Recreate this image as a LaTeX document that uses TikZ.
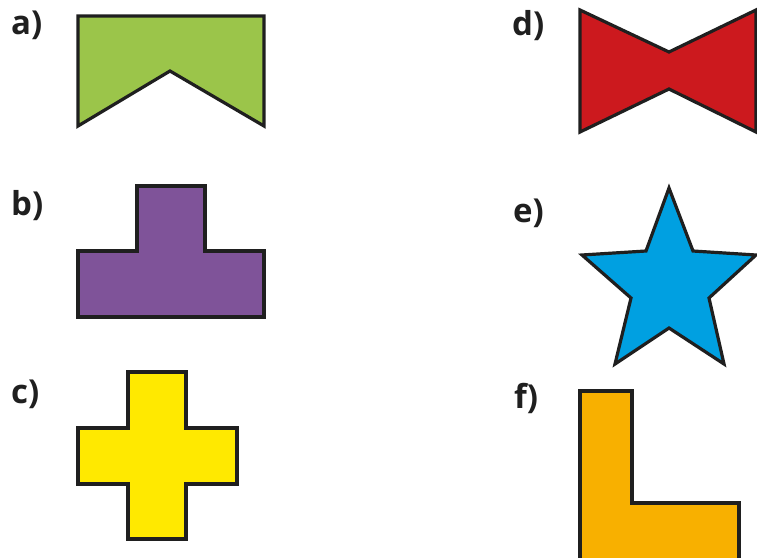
\documentclass[tikz,border=0pt]{standalone}
\usepackage{fontspec}
\setmainfont{Open Sans}
\definecolor{cgreen}{HTML}{9BC54A}
\definecolor{cpurple}{HTML}{7F5399}
\definecolor{cyellow}{HTML}{FFE900}
\definecolor{cred}{HTML}{CC191E}
\definecolor{cblue}{HTML}{00A0E1}
\definecolor{corange}{HTML}{F8B000}
\definecolor{cedge}{HTML}{1F1F1F}
\begin{document}
\begin{tikzpicture}[x=1pt,y=-1pt,
  figline/.style={draw=cedge,line width=3.2pt,line join=miter},
  lab/.style={anchor=base west,inner sep=0pt,font=\fontsize{33}{35}\selectfont\bfseries,text=cedge}]
\useasboundingbox (0,0) rectangle (757,557);
\clip (0,0) rectangle (757,557);
% labels
\node[lab] (la) at (11,34) {a)};
\node[lab] (lb) at (11,215) {b)};
\node[lab] (lc) at (11,403) {c)};
\node[lab] (ld) at (512,35) {d)};
\node[lab] (le) at (513,222) {e)};
\node[lab] (lf) at (514,408) {f)};
% a) green
\fill[cgreen] (78,16) -- (264,16) -- (264,126) -- (170,71) -- (78,126) -- cycle;
\draw[figline] (78,16) -- (264,16) -- (264,126) -- (170,71) -- (78,126) -- cycle;
% b) purple
\fill[cpurple] (137,186) -- (205,186) -- (205,251) -- (264,251) -- (264,317) -- (78,317) -- (78,251) -- (137,251) -- cycle;
\draw[figline] (137,186) -- (205,186) -- (205,251) -- (264,251) -- (264,317) -- (78,317) -- (78,251) -- (137,251) -- cycle;
% c) yellow
\fill[cyellow] (128,372) -- (186,372) -- (186,428) -- (237,428) -- (237,484) -- (186,484) -- (186,539) -- (128,539) -- (128,484) -- (78,484) -- (78,428) -- (128,428) -- cycle;
\draw[figline] (128,372) -- (186,372) -- (186,428) -- (237,428) -- (237,484) -- (186,484) -- (186,539) -- (128,539) -- (128,484) -- (78,484) -- (78,428) -- (128,428) -- cycle;
% d) red
\fill[cred] (580,10) -- (669,52) -- (756,10) -- (756,132) -- (669,89) -- (580,132) -- cycle;
\draw[figline] (580,10) -- (669,52) -- (756,10) -- (756,132) -- (669,89) -- (580,132) -- cycle;
% e) blue star
\fill[cblue] (669,188) -- (693,251) -- (756,255) -- (709,298) -- (724,364) -- (669,328) -- (615,364) -- (631,298) -- (582,255) -- (646,251) -- cycle;
\draw[figline] (669,188) -- (693,251) -- (756,255) -- (709,298) -- (724,364) -- (669,328) -- (615,364) -- (631,298) -- (582,255) -- (646,251) -- cycle;
% f) orange L
\fill[corange] (580,391) -- (632,391) -- (632,503) -- (739,503) -- (739,570) -- (580,570) -- cycle;
\draw[figline] (580,391) -- (632,391) -- (632,503) -- (739,503) -- (739,570) -- (580,570) -- cycle;
\end{tikzpicture}
\end{document}
